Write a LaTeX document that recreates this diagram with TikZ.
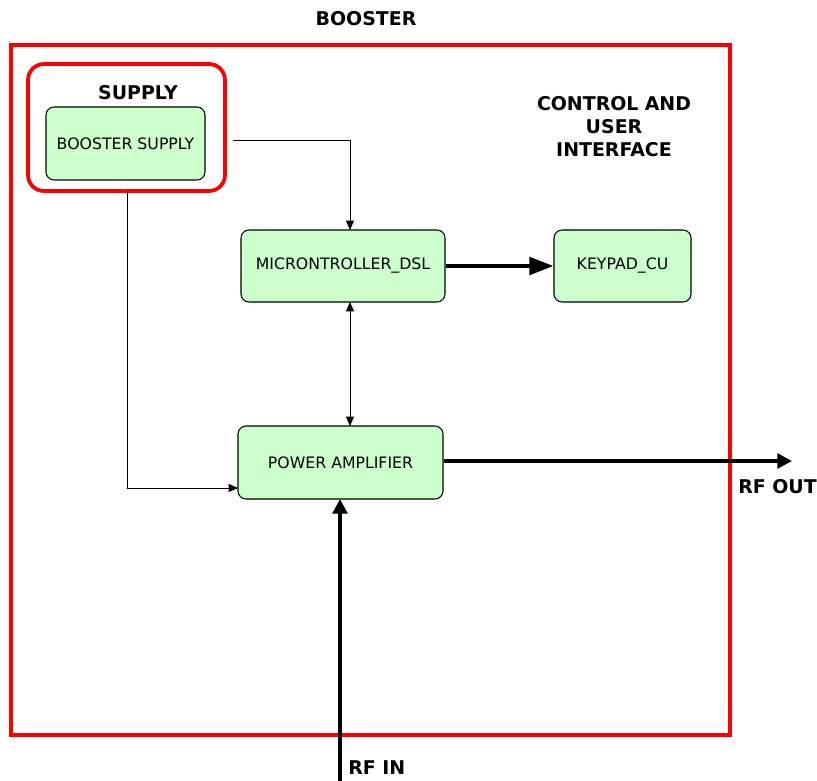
\documentclass[tikz,border=0pt]{standalone}
\usepackage{fontspec}
\setmainfont{DejaVu Sans}
\usetikzlibrary{arrows.meta}
\definecolor{boxgreen}{HTML}{CCFFCC}
\definecolor{redline}{HTML}{FF0000}
\tikzset{
  blk/.style={draw=black, fill=boxgreen, rounded corners=6pt, line width=0.8pt,
    font=\fontsize{11.8pt}{13pt}\selectfont, inner sep=0pt},
  lbl/.style={font=\fontsize{14.2pt}{17.25pt}\selectfont\bfseries, align=center},
  thin/.style={line width=0.75pt, -{Triangle[length=7pt,width=6pt]}},
  thick/.style={line width=3pt},
  redbox/.style={draw=redline, line width=2.8pt}
}
\begin{document}
\begin{tikzpicture}[x=0.75pt,y=-0.75pt]
\useasboundingbox (0,0) rectangle (817,781);
% outer booster box
\draw[redbox] (11,45) rectangle (730,735);
\node[lbl] (booster) at (366,19) {BOOSTER};
% supply box
\node[redbox, rounded corners=12pt, minimum width=147.75pt, minimum height=95.25pt, inner sep=0pt] (supply) at (126.5,127.5) {};
\node[lbl] (supplylbl) at (138,93) {SUPPLY};
\node[blk, minimum width=119.25pt, minimum height=54.75pt] (bsupply) at (125.5,143.5) {BOOSTER SUPPLY};
% control label
\node[lbl, text width=140pt, inner sep=0pt] (ctrl) at (614,127) {CONTROL AND\\ USER\\ INTERFACE};
% blocks
\node[blk, minimum width=153pt, minimum height=54pt] (micro) at (343,266) {MICRONTROLLER\_DSL};
\node[blk, minimum width=102.75pt, minimum height=54pt] (keypad) at (622.5,266) {KEYPAD\_CU};
\node[blk, minimum width=153.75pt, minimum height=54.75pt] (pa) at (340.5,462.5) {POWER AMPLIFIER};
% labels
\node[lbl, anchor=west, inner sep=0pt] (rfout) at (738,487) {RF OUT};
\node[lbl, anchor=west, inner sep=0pt] (rfin) at (348,768) {RF IN};
% coordinates
\coordinate (sstart) at (233,141);
\coordinate (scorner) at (350,141);
\coordinate (ptop) at (350,426);
\coordinate (mbot) at (350,302);
\coordinate (mtop) at (350,230);
\coordinate (lcorner) at (127,488);
\coordinate (pleft) at (238,488);
\coordinate (sbot) at (127,191);
\coordinate (outend) at (792,461);
\coordinate (inbot) at (340,781);
\coordinate (intop) at (340,499);
% connectors
\draw[thin] (sstart) -- (scorner) -- (mtop);
\draw[thin] (sbot) -- (lcorner) -- (pleft);
\draw[line width=0.75pt, {Triangle[length=7pt,width=6pt]}-{Triangle[length=7pt,width=6pt]}] (mbot) -- (ptop);
\draw[thick, -{Triangle[length=18pt,width=13pt]}] (micro.east) -- (keypad.west);
\draw[thick, -{Triangle[length=11pt,width=11pt]}] (pa.east |- outend) -- (outend);
\draw[thick, -{Triangle[length=11pt,width=11pt]}] (inbot) -- (intop);
\end{tikzpicture}
\end{document}
